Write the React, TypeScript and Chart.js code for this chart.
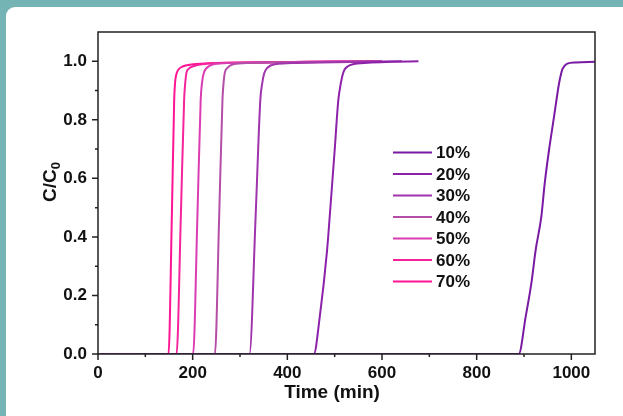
import React, { useEffect, useRef } from "react";
import { Chart, registerables } from "chart.js";

Chart.register(...registerables);

const LABELS = ["10%", "20%", "30%", "40%", "50%", "60%", "70%"];
const COLORS = ["#7A1AA4", "#8C22AA", "#A034AC", "#B44EA6", "#DA3CB2", "#F5239C", "#FF1493"];

const T10 = [85, 889, 903.5, 915.5, 924.6, 936.6, 943.7, 952.8, 963.4, 974, 978, 981, 986, 991.5, 1010, 1050];
const C10 = [0, 0, 0.127, 0.241, 0.355, 0.469, 0.582, 0.696, 0.81, 0.924, 0.955, 0.972, 0.985, 0.992, 0.996, 0.998];
const T20 = [0, 456, 468.5, 484, 489.5, 500, 507.7, 513, 517, 521, 528, 538.5, 570, 620, 677];
const C20 = [0, 0, 0.127, 0.355, 0.469, 0.696, 0.867, 0.925, 0.955, 0.972, 0.983, 0.99, 0.995, 0.998, 1.0];
const T30 = [0, 320, 333, 343, 347, 351, 358, 374, 420, 500, 642];
const C30 = [0, 0, 0.47, 0.87, 0.925, 0.958, 0.978, 0.99, 0.994, 0.997, 1.0];
const T40 = [0, 247, 256, 263, 265.5, 268, 274, 286, 320, 400, 500, 600];
const C40 = [0, 0, 0.47, 0.87, 0.93, 0.962, 0.978, 0.99, 0.994, 0.996, 0.998, 1.0];
const T50 = [0, 201, 210, 217, 220, 224, 230, 244, 280, 350, 450, 595];
const C50 = [0, 0, 0.47, 0.87, 0.93, 0.962, 0.978, 0.99, 0.994, 0.996, 0.998, 1.0];
const T60 = [0, 166, 175, 182, 184.5, 187, 192, 201, 220, 300, 450, 590];
const C60 = [0, 0, 0.47, 0.87, 0.93, 0.962, 0.975, 0.983, 0.99, 0.995, 0.998, 1.0];
const T70 = [0, 149, 156, 161, 163, 166, 170, 180, 201, 250, 350, 600];
const C70 = [0, 0, 0.47, 0.87, 0.93, 0.958, 0.972, 0.983, 0.99, 0.994, 0.997, 1.0];

const TIMES = [T10, T20, T30, T40, T50, T60, T70];
const VALUES = [C10, C20, C30, C40, C50, C60, C70];

const X_TICKS = [0, 200, 400, 600, 800, 1000];
const X_MINOR = [100, 300, 500, 700, 900];
const Y_TICKS = [0, 0.2, 0.4, 0.6, 0.8, 1.0];
const Y_MINOR = [0.1, 0.3, 0.5, 0.7, 0.9];

const X_TITLE = "Time (min)";
const Y_TITLE = "C/C";
const Y_TITLE_SUB = "0";

const FONT = "'Liberation Sans', Arial, sans-serif";

const framePlugin = {
  id: "frameAndLegend",
  afterDraw(chart: any) {
    const ctx = chart.ctx;
    const { left, right, top, bottom } = chart.chartArea;
    const xs = chart.scales.x;
    const ys = chart.scales.y;
    ctx.save();
    ctx.strokeStyle = "#222";
    ctx.lineWidth = 1.5;
    ctx.strokeRect(left, top, right - left, bottom - top);
    ctx.beginPath();
    X_TICKS.forEach((v) => {
      const px = xs.getPixelForValue(v);
      ctx.moveTo(px, bottom);
      ctx.lineTo(px, bottom + 6);
    });
    X_MINOR.forEach((v) => {
      const px = xs.getPixelForValue(v);
      ctx.moveTo(px, bottom);
      ctx.lineTo(px, bottom + 3);
    });
    Y_TICKS.forEach((v) => {
      const py = ys.getPixelForValue(v);
      ctx.moveTo(left, py);
      ctx.lineTo(left - 6, py);
    });
    Y_MINOR.forEach((v) => {
      const py = ys.getPixelForValue(v);
      ctx.moveTo(left, py);
      ctx.lineTo(left - 3, py);
    });
    ctx.stroke();

    // axis titles
    ctx.fillStyle = "#111";
    ctx.font = `bold 19px ${FONT}`;
    ctx.textAlign = "center";
    ctx.textBaseline = "alphabetic";
    ctx.fillText(X_TITLE, 332, 398);

    ctx.save();
    ctx.translate(56, 202);
    ctx.rotate(-Math.PI / 2);
    ctx.textAlign = "left";
    ctx.font = `bold 19px ${FONT}`;
    ctx.fillText(Y_TITLE, 0, 0);
    const w = ctx.measureText(Y_TITLE).width;
    ctx.font = `bold 13px ${FONT}`;
    ctx.fillText(Y_TITLE_SUB, w, 4);
    ctx.restore();

    // legend
    const ds = chart.data.datasets;
    ctx.font = `bold 17px ${FONT}`;
    ctx.textAlign = "left";
    ctx.textBaseline = "middle";
    ds.forEach((d: any, i: number) => {
      const y = 152.5 + i * 21.5;
      ctx.strokeStyle = d.borderColor;
      ctx.lineWidth = 2;
      ctx.beginPath();
      ctx.moveTo(393, y);
      ctx.lineTo(432, y);
      ctx.stroke();
      ctx.fillStyle = "#111";
      ctx.fillText(d.label, 436, y + 1);
    });
    ctx.restore();
  },
};

export default function App() {
  const ref = useRef<HTMLCanvasElement>(null);

  useEffect(() => {
    if (!ref.current) return;
    const datasets = LABELS.map((label, i) => ({
      label,
      data: TIMES[i].map((t, j) => ({ x: t, y: VALUES[i][j] })),
      borderColor: COLORS[i],
      backgroundColor: COLORS[i],
      borderWidth: 2,
      pointRadius: 0,
      fill: false,
      cubicInterpolationMode: "monotone" as const,
    }));
    const chart = new Chart(ref.current, {
      type: "line",
      data: { datasets },
      options: {
        animation: false,
        responsive: true,
        maintainAspectRatio: false,
        layout: { padding: { left: 0, top: 32, right: 28, bottom: 0 } },
        plugins: { legend: { display: false }, tooltip: { enabled: false } },
        scales: {
          x: {
            type: "linear",
            min: 0,
            max: 1050,
            grid: { display: false, drawTicks: false },
            border: { display: false },
            afterBuildTicks: (s: any) => {
              s.ticks = X_TICKS.map((v) => ({ value: v }));
            },
            afterFit: (s: any) => {
              s.height = 62;
            },
            ticks: {
              autoSkip: false,
              maxRotation: 0,
              padding: 9,
              color: "#111",
              font: { family: FONT, size: 17, weight: "bold" },
              callback: (v: any) => String(v),
            },
          },
          y: {
            type: "linear",
            min: 0,
            max: 1.1,
            grid: { display: false, drawTicks: false },
            border: { display: false },
            afterBuildTicks: (s: any) => {
              s.ticks = Y_TICKS.map((v) => ({ value: v }));
            },
            afterFit: (s: any) => {
              s.width = 98;
            },
            ticks: {
              autoSkip: false,
              padding: 11,
              color: "#111",
              font: { family: FONT, size: 17, weight: "bold" },
              callback: (v: any) => Number(v).toFixed(1),
            },
          },
        },
      },
      plugins: [framePlugin],
    });
    return () => chart.destroy();
  }, []);

  return (
    <div style={{ position: "fixed", left: 0, top: 0, width: 623, height: 416, background: "#74b4b4", overflow: "hidden" }}>
      <div style={{ position: "absolute", left: 6, top: 7, width: 640, height: 430, background: "#fff", borderRadius: 9 }} />
      <div style={{ position: "absolute", left: 0, top: 0, width: 623, height: 416 }}>
        <canvas ref={ref} />
      </div>
    </div>
  );
}
